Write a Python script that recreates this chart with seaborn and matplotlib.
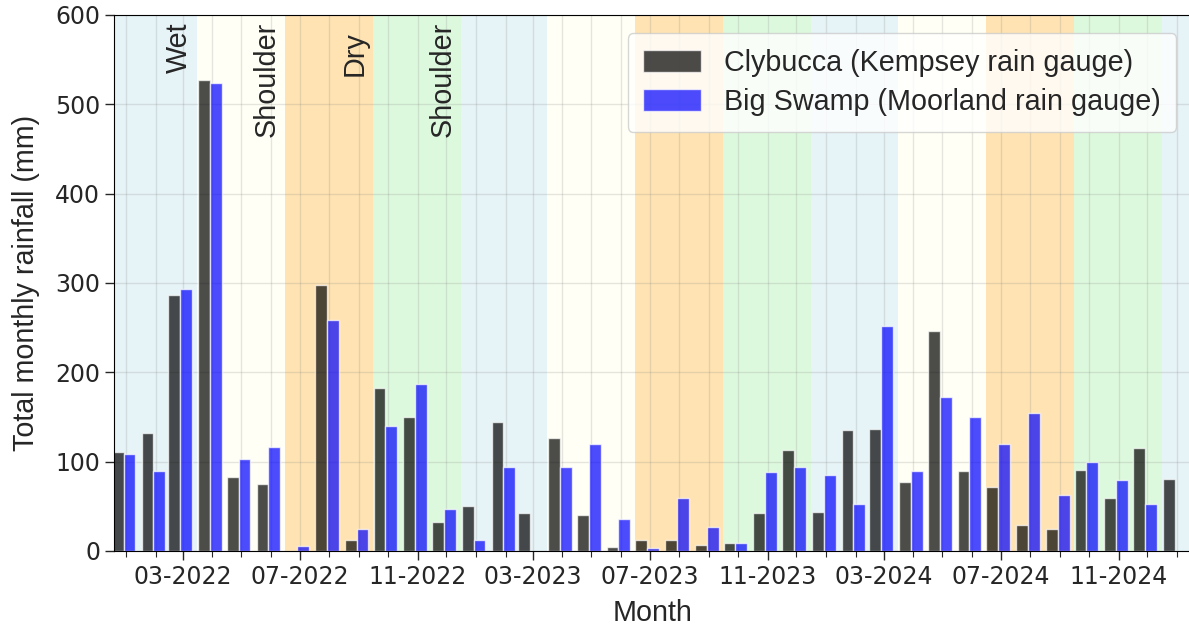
import numpy as np
import pandas as pd
import matplotlib
matplotlib.use("Agg")
import matplotlib.pyplot as plt
import matplotlib.dates as mdates
import seaborn as sns

# monthly totals (mm), Jan 2022 .. Jan 2025
months = pd.date_range("2022-01-01", "2025-01-01", freq="MS")
clybucca = [111, 132, 287, 527, 83, 75, 0, 298, 12, 183, 150, 33,
            50, 144, 42, 126, 40, 5, 12, 12, 7, 9, 42, 113,
            44, 135, 137, 77, 246, 90, 72, 29, 25, 91, 59, 115, 81]
big_swamp = [109, 90, 293, 524, 103, 116, 6, 259, 25, 140, 187, 47,
             12, 94, np.nan, 94, 120, 36, 3, 59, 27, 9, 88, 94,
             85, 53, 252, 90, 172, 150, 120, 154, 63, 100, 79, 53, np.nan]
gauges = ["Clybucca (Kempsey rain gauge)", "Big Swamp (Moorland rain gauge)"]

# seasons start on the 16th of these months
season_names = ["Wet", "Shoulder", "Dry", "Shoulder"]
season_months = [12, 3, 6, 9]
season_colors = ["lightblue", "lightyellow", "orange", "lightgreen"]
label_tops = [592, 592, 582, 592]

sns.set_style("ticks")
plt.rcParams["font.family"] = ["DejaVu Sans"]
txt_font = "Liberation Sans"
fs = 20.7

x = mdates.date2num(months) - 2.5
df = pd.DataFrame({
    "x": np.concatenate([x, x]),
    "rain": np.concatenate([clybucca, big_swamp]),
    "gauge": np.repeat(gauges, len(months)),
})

fig = plt.figure(figsize=(11.89, 6.28), dpi=100)
ax = fig.add_axes([114 / 1189, 77 / 628, 1077 / 1189, 536 / 628])

# season bands
for yr in range(2021, 2025):
    for i, (name, m, c) in enumerate(zip(season_names, season_months, season_colors)):
        y0 = yr if i == 0 else yr + 1
        start = pd.Timestamp(y0, m, 16)
        nxt = season_months[(i + 1) % 4]
        end = pd.Timestamp(yr + 1, nxt, 16) if i < 3 else pd.Timestamp(yr + 1, 12, 16)
        ax.axvspan(mdates.date2num(start), mdates.date2num(end), color=c, alpha=0.3, lw=0, zorder=0)
        if yr == 2021:
            ax.text(mdates.date2num(end) - 4.5, label_tops[i], name, rotation=90, ha="right", va="top",
                    fontsize=fs, family=txt_font)

sns.barplot(data=df, x="x", y="rain", hue="gauge", native_scale=True,
            palette=["black", "blue"], alpha=0.7, width=0.88, saturation=1,
            errorbar=None, ax=ax)

ax.set_axisbelow(True)
ax.set_xlim(mdates.date2num(months[0]) - 12.5, mdates.date2num(months[-1]) + 14.5)
ax.set_ylim(0, 600)
ax.set_yticks(range(0, 601, 100))
ax.xaxis.set_major_locator(mdates.MonthLocator(bymonth=(3, 7, 11)))
ax.xaxis.set_minor_locator(mdates.MonthLocator())
ax.xaxis.set_major_formatter(mdates.DateFormatter("%m-%Y"))
ax.tick_params(axis="both", which="major", labelsize=17, length=6.5, width=1)
ax.tick_params(axis="x", which="minor", length=4.5, width=0.8)
ax.grid(axis="x", which="both", color="grey", alpha=0.2, lw=1)
ax.grid(axis="y", which="major", color="grey", alpha=0.2, lw=1)
for s in ax.spines.values():
    s.set_visible(True)
    s.set_color("black")

ax.set_xlabel("Month", fontsize=fs, family=txt_font, labelpad=7)
ax.set_ylabel("Total monthly rainfall (mm)", fontsize=fs, family=txt_font, labelpad=11)

handles, labels = ax.get_legend_handles_labels()
ax.legend(handles, labels, loc="upper right", bbox_to_anchor=(0.9865, 0.9664), borderaxespad=0,
          prop={"family": txt_font, "size": fs}, framealpha=0.8,
          borderpad=0.55, labelspacing=0.4, handleheight=0.8)

fig.savefig("out.png", dpi=100)
